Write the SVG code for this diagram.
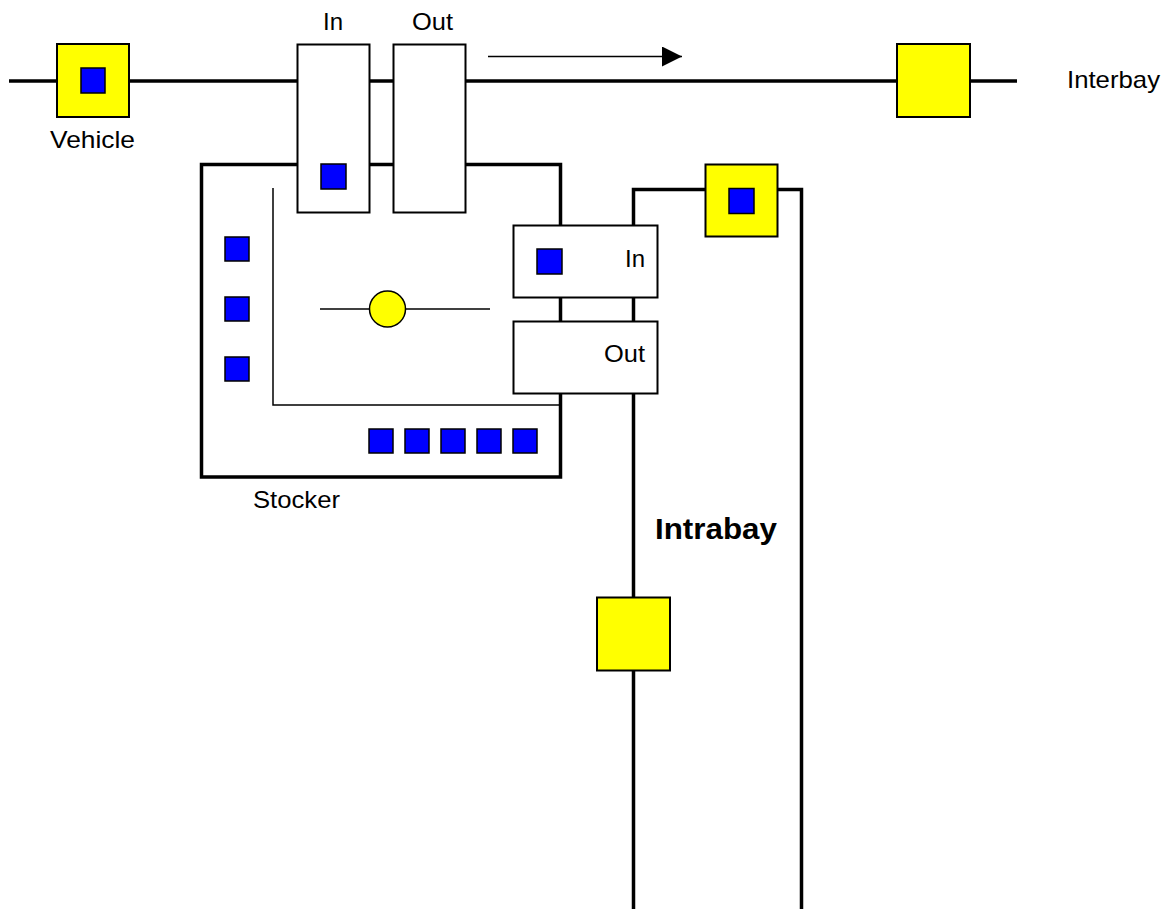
<svg xmlns="http://www.w3.org/2000/svg" width="1167" height="909" viewBox="0 0 1167 909">
<defs>
<style>
.t{font-family:"Liberation Sans",Arial,sans-serif;font-size:24px;fill:#000}
.b{font-family:"Liberation Sans",Arial,sans-serif;font-size:30px;font-weight:bold;fill:#000}
.box{fill:#fff;stroke:#000;stroke-width:2}
.yel{fill:#ffff00;stroke:#000;stroke-width:2}
.blu{fill:#0000ff;stroke:#000;stroke-width:1.5}
.thick{fill:none;stroke:#000;stroke-width:3.5}
.thin{fill:none;stroke:#000;stroke-width:1.5}
</style>
<marker id="ah" markerWidth="20" markerHeight="20" refX="20" refY="10" orient="auto" markerUnits="userSpaceOnUse">
<path d="M0,0 L20,10 L0,20 Z" fill="#000"/>
</marker>
</defs>
<rect width="1167" height="909" fill="#fff"/>
<g id="connectors">
<line class="thick" x1="9" y1="81" x2="1017" y2="81"/>
<path class="thick" d="M201.5,477 V164.5 H560.5 V477 Z" stroke-width="4"/>
<path class="thick" d="M633.5,912 V189.5 H801.5 V912"/>
<path class="thin" d="M273,188 V405 H559"/>
<line class="thin" x1="320" y1="309" x2="490" y2="309"/>
<line class="thin" x1="488" y1="56.5" x2="682" y2="56.5" marker-end="url(#ah)"/>
</g>
<g id="vehicle">
<rect class="yel" x="57" y="44" width="72" height="73"/>
<rect class="blu" x="81" y="68" width="24" height="25"/>
<text class="t" x="50" y="148" textLength="85" lengthAdjust="spacingAndGlyphs">Vehicle</text>
</g>
<g id="interbay-in">
<rect class="box" x="297.5" y="44.5" width="72" height="168"/>
<rect class="blu" x="321" y="164" width="25" height="25"/>
<text class="t" x="323" y="30" textLength="20" lengthAdjust="spacingAndGlyphs">In</text>
</g>
<g id="interbay-out">
<rect class="box" x="393.5" y="44.5" width="72" height="168"/>
<text class="t" x="412" y="30" textLength="41" lengthAdjust="spacingAndGlyphs">Out</text>
</g>
<g id="interbay-vehicle">
<rect class="yel" x="897" y="44" width="73" height="73"/>
</g>
<g id="interbay-label">
<text class="t" x="1067" y="88" textLength="93" lengthAdjust="spacingAndGlyphs">Interbay</text>
</g>
<g id="stocker">
<rect class="blu" x="225" y="237" width="24" height="24"/>
<rect class="blu" x="225" y="297" width="24" height="24"/>
<rect class="blu" x="225" y="357" width="24" height="24"/>
<rect class="blu" x="369" y="429" width="24" height="24"/>
<rect class="blu" x="405" y="429" width="24" height="24"/>
<rect class="blu" x="441" y="429" width="24" height="24"/>
<rect class="blu" x="477" y="429" width="24" height="24"/>
<rect class="blu" x="513" y="429" width="24" height="24"/>
<circle cx="387.5" cy="309" r="18" fill="#ffff00" stroke="#000" stroke-width="1.5"/>
<text class="t" x="253" y="508" textLength="87" lengthAdjust="spacingAndGlyphs">Stocker</text>
</g>
<g id="intrabay-in">
<rect class="box" x="513.5" y="225.5" width="144" height="72"/>
<rect class="blu" x="537" y="249" width="25" height="25"/>
<text class="t" x="625" y="267" textLength="20" lengthAdjust="spacingAndGlyphs">In</text>
</g>
<g id="intrabay-out">
<rect class="box" x="513.5" y="321.5" width="144" height="72"/>
<text class="t" x="604" y="362" textLength="41" lengthAdjust="spacingAndGlyphs">Out</text>
</g>
<g id="intrabay-vehicle-top">
<rect class="yel" x="705.5" y="164.5" width="72" height="72"/>
<rect class="blu" x="729" y="188.5" width="25" height="25"/>
</g>
<g id="intrabay-vehicle-mid">
<rect class="yel" x="597" y="597.5" width="73" height="73"/>
</g>
<g id="intrabay-label">
<text class="b" x="655" y="539" textLength="122" lengthAdjust="spacingAndGlyphs">Intrabay</text>
</g>
</svg>
